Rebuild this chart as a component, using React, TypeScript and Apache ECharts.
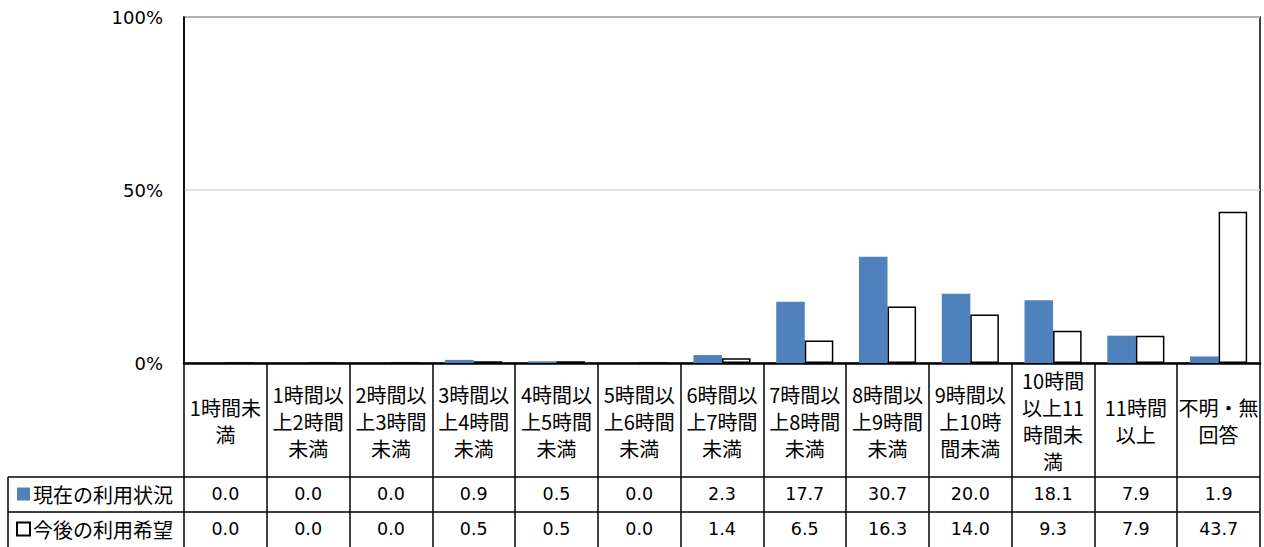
import React, { useEffect, useRef } from "react";
import * as echarts from "echarts";

const categories: string[] = [
  "1時間未\n満",
  "1時間以\n上2時間\n未満",
  "2時間以\n上3時間\n未満",
  "3時間以\n上4時間\n未満",
  "4時間以\n上5時間\n未満",
  "5時間以\n上6時間\n未満",
  "6時間以\n上7時間\n未満",
  "7時間以\n上8時間\n未満",
  "8時間以\n上9時間\n未満",
  "9時間以\n上10時\n間未満",
  "10時間\n以上11\n時間未\n満",
  "11時間\n以上",
  "不明・無\n回答",
];

const seriesNames: string[] = ["現在の利用状況", "今後の利用希望"];
const currentUse: number[] = [0.0, 0.0, 0.0, 0.9, 0.5, 0.0, 2.3, 17.7, 30.7, 20.0, 18.1, 7.9, 1.9];
const futureWish: number[] = [0.0, 0.0, 0.0, 0.5, 0.5, 0.0, 1.4, 6.5, 16.3, 14.0, 9.3, 7.9, 43.7];
const yTicks: number[] = [0, 50, 100];

const CJK = "'Noto Sans CJK JP', 'Noto Sans', sans-serif";
const NUM = "'DejaVu Sans', 'Noto Sans', sans-serif";

export default function App() {
  const ref = useRef<HTMLDivElement>(null);

  useEffect(() => {
    if (!ref.current) return;
    const chart = echarts.init(ref.current, null, { renderer: "svg" });

    const valueAxis = (vals: number[], margin: number) => ({
      type: "category",
      data: categories,
      position: "bottom",
      gridIndex: 0,
      axisLine: { show: false },
      axisTick: { show: false },
      splitLine: { show: false },
      axisLabel: {
        interval: 0,
        margin,
        verticalAlign: "middle",
        fontSize: 17.5,
        fontFamily: NUM,
        color: "#000",
        formatter: (_v: string, i: number) => vals[i].toFixed(1),
      },
    });

    chart.setOption({
      animation: false,
      backgroundColor: "#fff",
      grid: {
        left: 184,
        right: 4,
        top: 17,
        bottom: 184,
        show: true,
        borderColor: "#000",
        borderWidth: 1.5,
        containLabel: false,
      },
      legend: {
        orient: "vertical",
        left: 16,
        top: 483,
        padding: 0,
        itemGap: 13,
        itemWidth: 13,
        itemHeight: 13,
        icon: "rect",
        selectedMode: false,
        textStyle: { fontSize: 20, fontFamily: CJK, color: "#000", lineHeight: 22, padding: [0, 0, 0, -2] },
        data: seriesNames,
      },
      xAxis: [
        {
          type: "category",
          data: categories,
          position: "bottom",
          boundaryGap: true,
          axisLine: { show: true, lineStyle: { color: "#000", width: 2.5 } },
          axisTick: { show: true, length: 184, interval: 0, lineStyle: { color: "#000", width: 1.5 } },
          splitLine: { show: false },
          axisLabel: {
            interval: 0,
            margin: 58,
            verticalAlign: "middle",
            lineHeight: 27,
            fontSize: 20,
            fontFamily: CJK,
            color: "#000",
          },
        },
        valueAxis(currentUse, 131),
        valueAxis(futureWish, 166),
      ],
      yAxis: {
        type: "value",
        min: yTicks[0],
        max: yTicks[yTicks.length - 1],
        interval: yTicks[1] - yTicks[0],
        axisLine: { show: true, lineStyle: { color: "#000", width: 1.5 } },
        axisTick: { show: false },
        splitLine: { show: true, lineStyle: { color: "#d9d9d9", width: 1.5 } },
        axisLabel: {
          margin: 21,
          fontSize: 18,
          fontFamily: NUM,
          color: "#000",
          formatter: "{value}%",
        },
      },
      graphic: [
        { type: "line", shape: { x1: 8, y1: 477, x2: 1260, y2: 477 }, style: { stroke: "#000", lineWidth: 1.5 } },
        { type: "line", shape: { x1: 8, y1: 512, x2: 1260, y2: 512 }, style: { stroke: "#000", lineWidth: 1.5 } },
        { type: "line", shape: { x1: 8, y1: 477, x2: 8, y2: 547 }, style: { stroke: "#000", lineWidth: 1.5 } },
      ],
      series: [
        {
          name: seriesNames[0],
          type: "bar",
          xAxisIndex: 0,
          data: currentUse,
          barGap: "0%",
          barCategoryGap: "31%",
          itemStyle: { color: "#4F81BD" },
        },
        {
          name: seriesNames[1],
          type: "bar",
          xAxisIndex: 0,
          data: futureWish,
          barGap: "0%",
          barCategoryGap: "31%",
          itemStyle: { color: "#ffffff", borderColor: "#000", borderWidth: 1.5 },
        },
      ],
    });

    return () => chart.dispose();
  }, []);

  return (
    <div
      ref={ref}
      style={{ position: "absolute", left: 0, top: 0, width: 1264, height: 547 }}
    />
  );
}
